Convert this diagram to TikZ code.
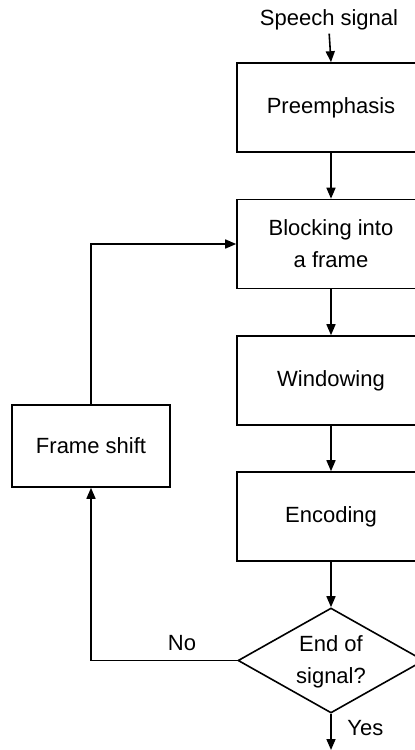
\documentclass[tikz,border=0pt]{standalone}
\usepackage{fontspec}
\setmainfont{Liberation Sans}
\usetikzlibrary{arrows.meta,shapes.geometric}
\begin{document}
\begin{tikzpicture}[x=0.5pt,y=-0.5pt,
  every node/.style={font=\fontsize{11}{16}\selectfont},
  stepbox/.style={draw,line width=0.8pt,minimum width=94pt,minimum height=44.5pt,inner sep=0pt,align=center},
  fsbox/.style={draw,line width=0.8pt,minimum width=79pt,minimum height=41pt,inner sep=0pt,align=center},
  decbox/.style={draw,line width=0.8pt,diamond,minimum width=93pt,minimum height=52.5pt,inner sep=0pt},
  arr/.style={line width=0.8pt,-{Triangle[length=5.5pt,width=4.5pt]}},
  lbl/.style={inner sep=0pt}]
\useasboundingbox (0,0) rectangle (415,750);
\node[lbl] (sp) at (329,20) {Speech signal};
\node[stepbox] (pre) at (331,107.5) {Preemphasis};
\node[stepbox] (blk) at (331,244) {Blocking into\\a frame};
\node[stepbox] (win) at (331,380.5) {Windowing};
\node[stepbox] (enc) at (331,516.5) {Encoding};
\node[decbox] (dec) at (331,660.5) {};
\node[lbl,align=center] (dectxt) at (331,662) {End of\\signal?};
\node[fsbox] (fs) at (91,446) {Frame shift};
\coordinate (end) at (331,750);
\node[lbl] (no) at (182,643) {No};
\node[lbl,anchor=west] (yes) at (347,728) {Yes};
\draw[arr,shorten <=1.5pt] (sp.south) -- (pre.north);
\draw[arr] (pre.south) -- (blk.north);
\draw[arr] (blk.south) -- (win.north);
\draw[arr] (win.south) -- (enc.north);
\draw[arr] (enc.south) -- (dec.north);
\draw[arr] (dec.south) -- (end);
\draw[arr] (dec.west) -| (fs.south);
\draw[arr] (fs.north) |- (blk.west);
\end{tikzpicture}
\end{document}
